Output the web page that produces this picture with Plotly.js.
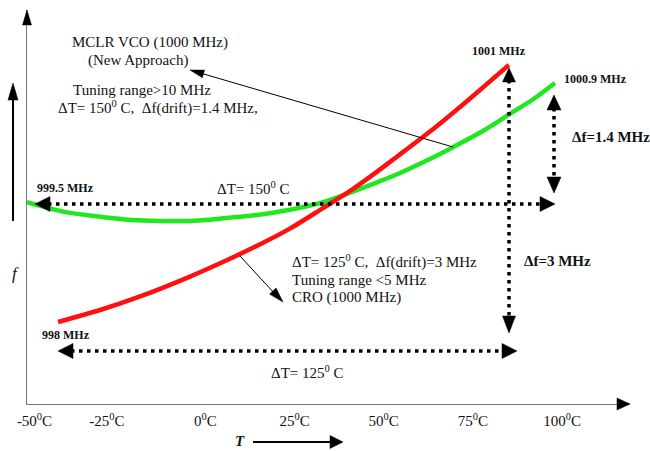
<!DOCTYPE html>
<html><head><meta charset="utf-8">
<script src="https://cdn.plot.ly/plotly-3.0.1.min.js"></script>
<style>html,body{margin:0;padding:0;background:#fff}#chart{width:650px;height:451px}</style>
</head><body><div id="chart"></div>
<script>
// CRO (1000 MHz) curve, red
const redT = [-41.3,-29.5,-17.5,-4.3,4.9,14.5,23.7,33.0,40.6,47.0,53.7,63.8,73.4,85.1];
const redF = [998.00,998.14,998.31,998.53,998.70,998.89,999.09,999.33,999.53,999.72,999.93,1000.25,1000.58,1001.00];
// MCLR VCO (1000 MHz) curve, green
const greenT = [-50.0,-38.8,-29.5,-20.3,-12.7,-4.3,4.9,14.5,23.7,33.0,40.6,48.1,54.6,63.8,69.4,77.8,85.4,91.9,98.0];
const greenF = [999.40,999.28,999.23,999.19,999.18,999.18,999.21,999.25,999.31,999.40,999.51,999.63,999.74,999.92,1000.04,1000.23,1000.43,1000.60,1000.79];
// axis ticks
const tickVals = [-50,-25,0,25,50,75,100];
const tickText = ['\u00a0\u00a0\u00a0\u00a0-50<sup>0</sup>C','-25<sup>0</sup>C\u00a0\u00a0\u00a0\u00a0\u00a0','0<sup>0</sup>C','25<sup>0</sup>C','50<sup>0</sup>C','75<sup>0</sup>C','100<sup>0</sup>C'];

const W=650,H=451,M={l:27,r:20,t:10,b:47};
const PW=W-M.l-M.r, PH=H-M.t-M.b;
function px(x){return (x-M.l)/PW;}
function py(y){return (H-M.b-y)/PH;}
const shapes=[], annotations=[];
const SERIF='Liberation Serif, Times New Roman, serif';
function seg(x1,y1,x2,y2,w,color,dash){
  shapes.push({type:'line',xref:'paper',yref:'paper',x0:px(x1),y0:py(y1),x1:px(x2),y1:py(y2),layer:'above',
    line:{color:color,width:w,dash:dash||'solid'}});
}
function head(bx,by,tx,ty,len,wid){
  const dx=tx-bx, dy=ty-by, d=Math.hypot(dx,dy), ux=dx/d, uy=dy/d;
  const cx=tx-ux*len, cy=ty-uy*len, nx=-uy*wid/2, ny=ux*wid/2;
  const p=[[tx,ty],[cx+nx,cy+ny],[cx-nx,cy-ny]];
  shapes.push({type:'path',xref:'paper',yref:'paper',layer:'above',
    path:'M'+p.map(q=>px(q[0]).toFixed(5)+','+py(q[1]).toFixed(5)).join('L')+'Z',
    fillcolor:'#000',line:{color:'#000',width:0.5}});
}
function txt(x,y,text,o){
  o=o||{};
  annotations.push({xref:'paper',yref:'paper',x:px(x),y:py(y),text:text,showarrow:false,
    xanchor:o.xa||'center',yanchor:o.ya||'middle',
    font:{family:SERIF,size:o.size||15,color:'#111',weight:o.weight||'normal',style:o.style||'normal'}});
}
const DOT='3.5px,4.5px';
// axis arrowheads
head(27,30,27,10,15,9);
head(600,404,630,404,13,12);
// left f arrow
seg(13,221,13,98,2,'#000');
head(13,120,13,83,17,10);
// T arrow
seg(253,442,332,442,2,'#000');
head(300,442,343,442,13,13);
// green dimension arrows
seg(48,204,542,204,3.5,'#000',DOT);
head(60,204,35,204,15,15);
head(500,204,555,204,15,15);
seg(554,108,554,179,3.5,'#000',DOT);
head(554,130,554,95,15,14);
head(554,150,554,193,16,14);
// red dimension arrows
seg(509,80,509,318,3.5,'#000',DOT);
head(509,100,509,68,14,13);
head(509,300,509,333,17,13);
seg(71,351,504,351,3.5,'#000',DOT);
head(90,351,58,351,15,15);
head(480,351,517,351,15,15);
// leader lines
seg(453,147,202,73.5,1,'#000');
head(453,147,190,70,14,8);
seg(240,256,275,294,1,'#000');
head(240,256,283,302,15,9);

// texts
txt(149.5,42,'MCLR VCO (1000 MHz)');
txt(137.5,60,'(New Approach)');
txt(142,90,'Tuning range>10 MHz');
txt(157.5,108,'ΔT= 150<sup>0</sup> C,  Δf(drift)=1.4 MHz,');
txt(65.5,188,'999.5 MHz',{size:12,weight:'bold'});
txt(253.5,188,'ΔT= 150<sup>0</sup> C');
txt(498.5,51,'1001 MHz',{size:12,weight:'bold'});
txt(562,79,'1000.9 MHz',{size:12,weight:'bold',xa:'left'});
txt(570,137,'Δf=1.4 MHz',{size:15,weight:'bold',xa:'left'});
txt(290,261,'ΔT= 125<sup>0</sup> C,  Δf(drift)=3 MHz',{xa:'left'});
txt(290,280,'Tuning range <5 MHz',{xa:'left'});
txt(290,297,'CRO (1000 MHz)',{xa:'left'});
txt(522,261,'Δf=3 MHz',{size:15,weight:'bold',xa:'left'});
txt(40,335,'998 MHz',{size:12,weight:'bold',xa:'left'});
txt(307,372,'ΔT= 125<sup>0</sup> C');
txt(15,273,'f',{size:17,style:'italic'});
txt(240,451,'T',{size:15,style:'italic',weight:'bold',ya:'bottom'});

const traces=[
  {x:greenT,y:greenF,type:'scatter',mode:'lines',line:{color:'#1ee81e',width:4.5,shape:'spline',smoothing:0.8},hoverinfo:'skip'},
  {x:redT,y:redF,type:'scatter',mode:'lines',line:{color:'#ff0f0f',width:4.5,shape:'spline',smoothing:0.8},hoverinfo:'skip'}
];
const layout={
  width:W,height:H,margin:M,paper_bgcolor:'#fff',plot_bgcolor:'#fff',showlegend:false,
  font:{family:SERIF,color:'#111'},
  xaxis:{range:[-50,119.05],showgrid:false,zeroline:false,showline:true,linecolor:'#777',linewidth:1,
    tickvals:tickVals,ticktext:tickText,ticks:'',ticklabelstandoff:3,tickfont:{family:SERIF,size:15,color:'#111'},fixedrange:true},
  yaxis:{range:[997.043,1001.642],showgrid:false,zeroline:false,showline:true,linecolor:'#777',linewidth:1,
    showticklabels:false,ticks:'',fixedrange:true},
  shapes:shapes,annotations:annotations
};
Plotly.newPlot('chart',traces,layout,{staticPlot:true,displayModeBar:false});
</script></body></html>
